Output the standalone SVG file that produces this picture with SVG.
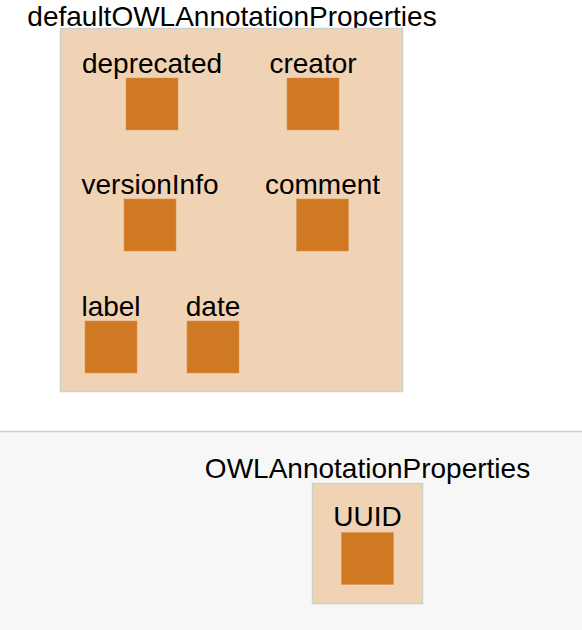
<svg xmlns="http://www.w3.org/2000/svg" width="582" height="630" viewBox="0 0 582 630">
<style>
.lbl{font-family:"Liberation Sans",Arial,sans-serif;font-size:28px;fill:#000;text-anchor:middle}
.cont{fill:#efd3b4;stroke:#cfcfcf;stroke-width:1.5}
.sq{fill:#cf7a22;stroke:#dc9550;stroke-width:0.5}
</style>
<rect x="0" y="0" width="582" height="630" fill="#ffffff"/>
<g id="lowerPanel">
<rect x="-2" y="431.5" width="586" height="202" fill="#f7f7f7" stroke="#d0d0d0" stroke-width="1.5"/>
</g>
<g id="defaultOWLAnnotationProperties">
<text class="lbl" x="232" y="25.5">defaultOWLAnnotationProperties</text>
<rect class="cont" x="60.5" y="28.5" width="342" height="363"/>
</g>
<g id="deprecated"><text class="lbl" x="152" y="73">deprecated</text><rect class="sq" x="126" y="78" width="52" height="52"/></g>
<g id="creator"><text class="lbl" x="313" y="73">creator</text><rect class="sq" x="287" y="78" width="52" height="52"/></g>
<g id="versionInfo"><text class="lbl" x="150" y="194">versionInfo</text><rect class="sq" x="124" y="199" width="52" height="52"/></g>
<g id="comment"><text class="lbl" x="322.5" y="194">comment</text><rect class="sq" x="296.5" y="199" width="52" height="52"/></g>
<g id="label"><text class="lbl" x="111" y="316">label</text><rect class="sq" x="85" y="321" width="52" height="52"/></g>
<g id="date"><text class="lbl" x="213" y="316">date</text><rect class="sq" x="187" y="321" width="52" height="52"/></g>
<g id="OWLAnnotationProperties">
<text class="lbl" x="367.5" y="478">OWLAnnotationProperties</text>
<rect class="cont" x="312.5" y="483.5" width="110" height="120"/>
</g>
<g id="UUID"><text class="lbl" x="367.5" y="526">UUID</text><rect class="sq" x="341.5" y="532.5" width="52" height="52"/></g>
<g id="connectors"></g>
</svg>
